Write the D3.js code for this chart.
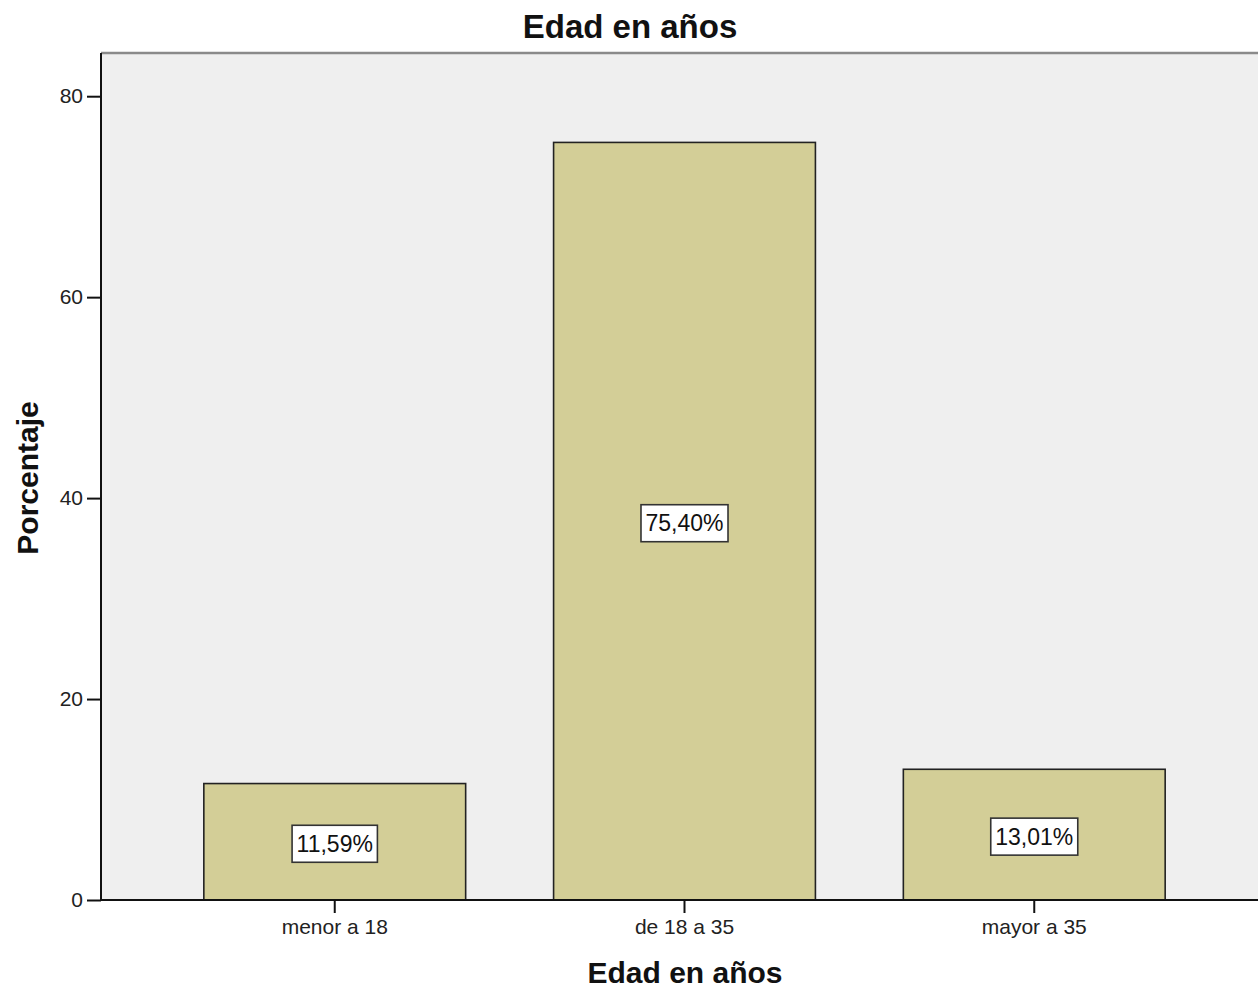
<!DOCTYPE html>
<html>
<head>
<meta charset="utf-8">
<script src="https://cdn.jsdelivr.net/npm/d3@7"></script>
<style>
  html, body { margin: 0; padding: 0; background: #fff; }
  svg { display: block; }
  text { font-family: "Liberation Sans", Arial, sans-serif; }
</style>
</head>
<body>
<svg id="chart" width="1258" height="989"></svg>
<script>
const categories = ["menor a 18", "de 18 a 35", "mayor a 35"];
const values = [11.59, 75.40, 13.01];
const valueLabels = ["11,59%", "75,40%", "13,01%"];
const yTicks = [0, 20, 40, 60, 80];
const chartTitle = "Edad en años";
const xTitle = "Edad en años";
const yTitle = "Porcentaje";

(function () {
const svg = d3.select("#chart");
const pLeft = 101, pRight = 1268, pTop = 53, pBottom = 900;

const x = d3.scaleBand().domain(categories).range([pLeft, pRight])
  .paddingInner(0.2514).paddingOuter(0.294).align(0.5);
const y = d3.scaleLinear().domain([0, 84.3]).range([pBottom, pTop]);

// plot background
svg.append("rect").attr("x", pLeft).attr("y", pTop)
  .attr("width", pRight - pLeft).attr("height", pBottom - pTop)
  .attr("fill", "#efefef");
// top border (grey)
svg.append("line").attr("x1", pLeft).attr("x2", pRight).attr("y1", pTop).attr("y2", pTop)
  .attr("stroke", "#8a8a8a").attr("stroke-width", 2.5);

// bars
const bars = svg.append("g");
bars.selectAll("rect").data(values).join("rect")
  .attr("x", (d, i) => x(categories[i]))
  .attr("y", d => y(d))
  .attr("width", x.bandwidth())
  .attr("height", d => y(0) - y(d))
  .attr("fill", "#d3ce97")
  .attr("stroke", "#222")
  .attr("stroke-width", 1.6);

// value labels with boxes
const lab = svg.append("g");
values.forEach((v, i) => {
  const cx = x(categories[i]) + x.bandwidth() / 2;
  const cy = (y(v) + y(0)) / 2 + 2;
  const g = lab.append("g");
  const t = g.append("text").attr("x", cx).attr("y", cy)
    .attr("text-anchor", "middle").attr("dominant-baseline", "central")
    .attr("font-size", 23).attr("fill", "#111").text(valueLabels[i]);
  const bb = t.node().getBBox();
  const w = bb.width + 9, h = 37;
  g.insert("rect", "text").attr("x", cx - w / 2).attr("y", cy - h / 2)
    .attr("width", w).attr("height", h)
    .attr("fill", "#fff").attr("stroke", "#333").attr("stroke-width", 1.6);
});

// y axis
const yAxis = svg.append("g").attr("transform", `translate(${pLeft},0)`)
  .call(d3.axisLeft(y).tickValues(yTicks).tickSize(14).tickPadding(4).tickFormat(d3.format("d")));
yAxis.select(".domain").attr("stroke", "#111").attr("stroke-width", 2).attr("d", `M0,${pTop}V${pBottom}`);
yAxis.selectAll(".tick line").attr("stroke", "#111").attr("stroke-width", 2);
yAxis.selectAll(".tick text").attr("font-size", 21).attr("fill", "#222")
  .attr("font-family", "'Liberation Sans', Arial, sans-serif");

// x axis
const xAxis = svg.append("g").attr("transform", `translate(0,${pBottom})`)
  .call(d3.axisBottom(x).tickSize(13).tickPadding(6));
xAxis.select(".domain").attr("stroke", "#111").attr("stroke-width", 2).attr("d", `M${pLeft},0H${pRight}`);
xAxis.selectAll(".tick line").attr("stroke", "#111").attr("stroke-width", 2);
xAxis.selectAll(".tick text").attr("font-size", 21).attr("fill", "#222")
  .attr("font-family", "'Liberation Sans', Arial, sans-serif");

// titles
svg.append("text").attr("x", 630).attr("y", 38).attr("text-anchor", "middle")
  .attr("font-size", 33).attr("font-weight", "bold").attr("fill", "#111").text(chartTitle);
svg.append("text").attr("x", 685).attr("y", 983).attr("text-anchor", "middle")
  .attr("font-size", 30).attr("font-weight", "bold").attr("fill", "#111").text(xTitle);
svg.append("text").attr("transform", `translate(38,478) rotate(-90)`).attr("text-anchor", "middle")
  .attr("font-size", 30).attr("font-weight", "bold").attr("fill", "#111").text(yTitle);
})();
</script>
</body>
</html>
